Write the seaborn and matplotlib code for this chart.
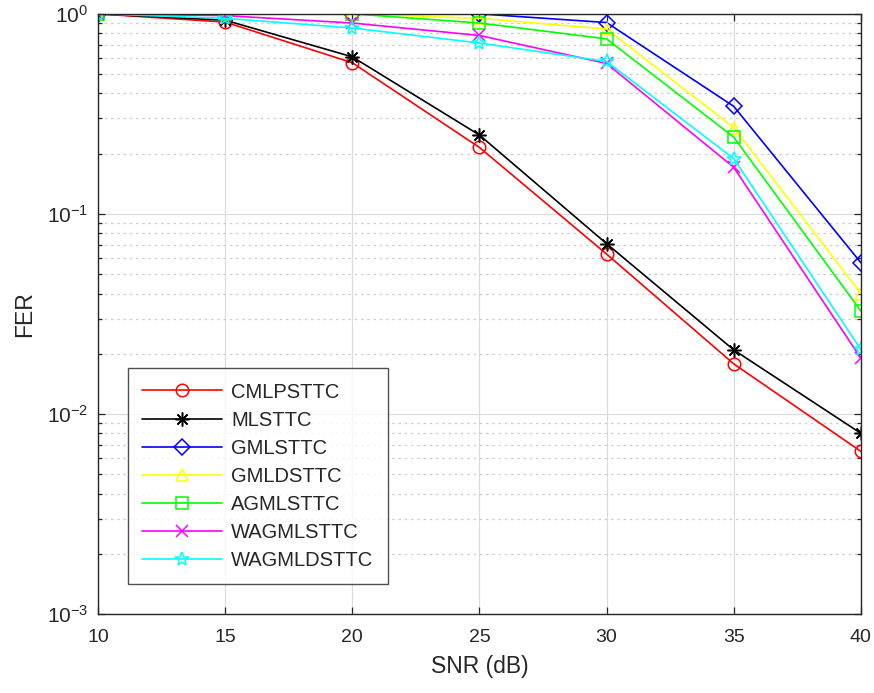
import seaborn as sns
import numpy as np
import pandas as pd
import matplotlib
matplotlib.use("Agg")
import matplotlib.pyplot as plt
from matplotlib.ticker import LogLocator, NullFormatter


snr = [10, 15, 20, 25, 30, 35, 40]

cmlpsttc = [1.0, 0.91, 0.57, 0.215, 0.063, 0.0178, 0.0065]
mlsttc = [1.0, 0.93, 0.61, 0.248, 0.071, 0.0209, 0.0080]
gmlsttc = [1.0, 1.0, 1.0, 1.0, 0.905, 0.345, 0.057]
gmldsttc = [1.0, 1.0, 1.0, 0.95, 0.84, 0.27, 0.040]
agmlsttc = [1.0, 1.0, 1.0, 0.90, 0.75, 0.242, 0.0327]
wagmlsttc = [1.0, 0.98, 0.90, 0.78, 0.565, 0.171, 0.0190]
wagmldsttc = [1.0, 0.95, 0.85, 0.715, 0.578, 0.189, 0.0210]

names = ["CMLPSTTC", "MLSTTC", "GMLSTTC", "GMLDSTTC", "AGMLSTTC", "WAGMLSTTC", "WAGMLDSTTC"]
series = [cmlpsttc, mlsttc, gmlsttc, gmldsttc, agmlsttc, wagmlsttc, wagmldsttc]
colors = ["#FF0000", "#000000", "#0000FF", "#FFFF00", "#00FF00", "#FF00FF", "#00FFFF"]
markers = ["o", (8, 2, 0), "D", "^", "s", "x", "*"]
msizes = [9, 10, 8, 9, 8, 8, 10]

sns.set_style("ticks")
plt.rcParams["font.family"] = ["Liberation Sans", "DejaVu Sans"]
plt.rcParams["mathtext.fontset"] = "custom"
plt.rcParams["mathtext.rm"] = "Liberation Sans"
plt.rcParams["mathtext.it"] = "Liberation Sans:italic"

txt = "#262626"

f = plt.figure(figsize=(8.74, 6.93), dpi=100)
ax = f.add_axes([0.112, 0.114, 0.873, 0.866])

for name, vals, c, m, ms in zip(names, series, colors, markers, msizes):
    sns.lineplot(x=snr, y=vals, ax=ax, color=c, marker=m, markersize=ms,
                 mfc="none", mec=c, mew=1.1, linewidth=1.2, label=name)

ax.set_yscale("log")
ax.set_xlim(10, 40)
ax.set_ylim(1e-3, 1)
ax.set_xticks(range(10, 41, 5))
ax.yaxis.set_major_locator(LogLocator(base=10, numticks=10))
ax.yaxis.set_minor_locator(LogLocator(base=10, subs=np.arange(2, 10), numticks=20))
ax.yaxis.set_minor_formatter(NullFormatter())

ax.grid(which="major", color="#dcdcdc", linestyle="-", linewidth=0.9)
ax.grid(which="minor", axis="y", color="#cccccc", linestyle=(0, (2, 3)), linewidth=0.9)
ax.set_axisbelow(True)

ax.tick_params(which="both", direction="in", top=True, right=True, colors=txt,
               labelcolor=txt)
ax.tick_params(axis="x", labelsize=14, pad=11)
ax.tick_params(axis="y", labelsize=15, pad=7)
ax.tick_params(which="major", length=5, width=0.9)
ax.tick_params(which="minor", length=3, width=0.9)
for s in ax.spines.values():
    s.set_color(txt)
    s.set_linewidth(1.0)

ax.set_xlabel("SNR (dB)", fontsize=16.5, color=txt, labelpad=6)
ax.set_ylabel("FER", fontsize=16.5, color=txt, labelpad=8)

leg = ax.legend(loc="lower left", bbox_to_anchor=(0.039, 0.05), borderaxespad=0,
                fontsize=14.5, handlelength=4.0, handletextpad=0.45, labelspacing=0.45,
                borderpad=0.7, frameon=True, fancybox=False)
leg.get_frame().set_edgecolor(txt)
leg.get_frame().set_linewidth(1.0)
for t in leg.get_texts():
    t.set_color(txt)

plt.savefig("out.png", dpi=100)
